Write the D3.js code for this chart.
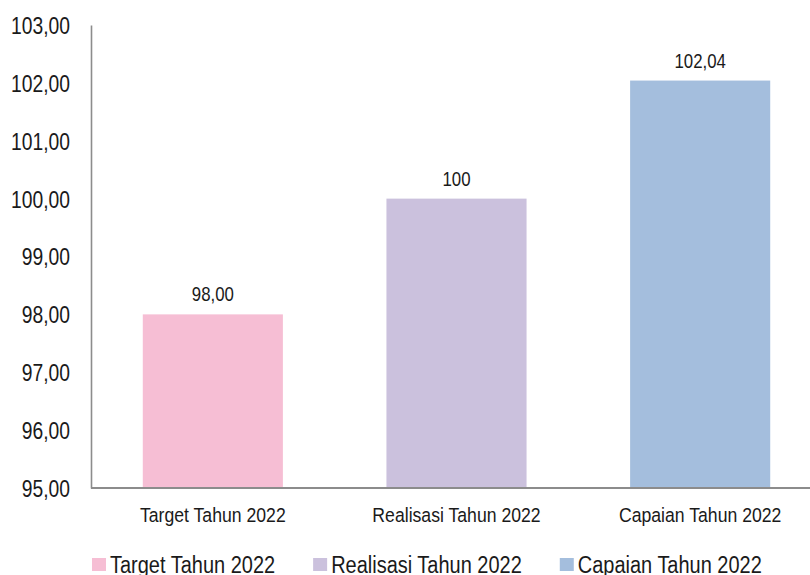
<!DOCTYPE html>
<html>
<head>
<meta charset="utf-8">
<script src="https://cdn.jsdelivr.net/npm/d3@7"></script>
<style>
  html, body { margin: 0; padding: 0; background: #ffffff; }
  svg { display: block; }
  text { font-family: "Liberation Sans", Arial, sans-serif; fill: #1a1a1a; }
</style>
</head>
<body>
<svg id="chart" width="810" height="575"></svg>
<script>
const categories = ["Target Tahun 2022", "Realisasi Tahun 2022", "Capaian Tahun 2022"];
const values = [98.00, 100, 102.04];
const valueLabels = ["98,00", "100", "102,04"];
const colors = ["#F6BED4", "#CBC1DD", "#A4BEDD"];
const yTicks = [95, 96, 97, 98, 99, 100, 101, 102, 103];

const W = 810, H = 575;
const margin = { left: 91, top: 25, right: -12, bottom: 87 };
const svg = d3.select("#chart");

function condense(sel, factor) {
  sel.each(function () {
    const len = this.getComputedTextLength();
    this.__len = len * factor;
    d3.select(this).attr("textLength", len * factor).attr("lengthAdjust", "spacingAndGlyphs");
  });
}

const x = d3.scaleBand()
  .domain(categories)
  .range([margin.left, W - margin.right])
  .paddingInner(0.425)
  .paddingOuter(0.2125);

const y = d3.scaleLinear()
  .domain([95, 103])
  .range([H - margin.bottom, margin.top]);

const fmt = v => d3.format(".2f")(v).replace(".", ",");

// Bars
svg.append("g").selectAll("rect")
  .data(values)
  .join("rect")
  .attr("x", (d, i) => x(categories[i]))
  .attr("width", x.bandwidth())
  .attr("y", d => y(d))
  .attr("height", d => y(95) - y(d))
  .attr("fill", (d, i) => colors[i]);

// Y axis
const yAxis = svg.append("g")
  .attr("transform", `translate(${margin.left},0)`)
  .call(d3.axisLeft(y).tickValues(yTicks).tickFormat(fmt).tickSize(0).tickPadding(21));
yAxis.select(".domain").attr("stroke", "#8c8c8c").attr("stroke-width", 1.6);
yAxis.selectAll("text")
  .style("font-size", "23.5px")
  .attr("dy", "0.36em")
  .call(condense, 0.82);

// X axis baseline
const xAxis = svg.append("g")
  .attr("transform", `translate(0,${y(95)})`)
  .call(d3.axisBottom(x).tickSize(0).tickPadding(27));
xAxis.select(".domain").attr("d", `M${margin.left},0H${W}`).attr("stroke", "#8c8c8c").attr("stroke-width", 2);
xAxis.selectAll("text")
  .style("font-size", "20.5px")
  .attr("dy", "0")
  .attr("y", 33.5)
  .call(condense, 0.86);

// Value labels
svg.append("g").selectAll("text")
  .data(values)
  .join("text")
  .attr("x", (d, i) => x(categories[i]) + x.bandwidth() / 2)
  .attr("y", d => y(d) - 13)
  .attr("text-anchor", "middle")
  .style("font-size", "20.5px")
  .text((d, i) => valueLabels[i])
  .call(condense, 0.82);

// Legend
const legend = svg.append("g").attr("transform", "translate(92,0)");
let lx = 0;
categories.forEach((c, i) => {
  const g = legend.append("g").attr("transform", `translate(${lx},0)`);
  g.append("rect").attr("x", 0).attr("y", 558).attr("width", 14).attr("height", 13).attr("fill", colors[i]);
  const t = g.append("text").attr("x", 18).attr("y", 573).style("font-size", "23.5px").text(c);
  t.call(condense, 0.85);
  lx += 18 + t.node().__len + 38;
});
</script>
</body>
</html>
